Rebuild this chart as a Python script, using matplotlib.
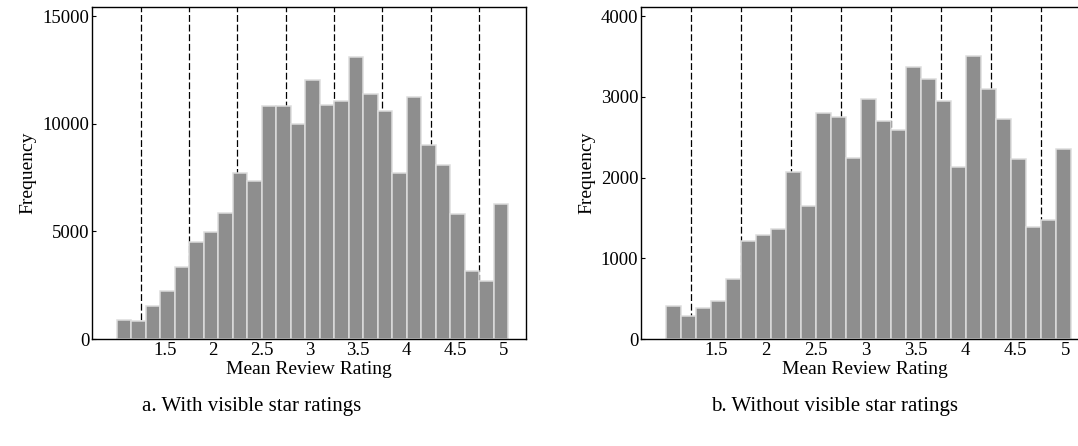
import numpy as np
import matplotlib
matplotlib.use("Agg")
import matplotlib.pyplot as plt

plt.rcParams['font.family'] = ['Liberation Serif', 'DejaVu Serif']

# histogram bins: 27 bins of width 0.15 starting at 1.0
bin_start = 1.0
bin_width = 0.15
n_bins = 27

# a. with visible star ratings
freq_visible = [900, 820, 1515, 2210, 3340, 4485, 4950, 5845, 7730, 7345,
                10825, 10825, 10005, 12015, 10890, 11040, 13110, 11400, 10580,
                7730, 11260, 8990, 8060, 5820, 3180, 2715, 6280]
# b. without visible star ratings
freq_hidden = [404, 280, 384, 466, 742, 1208, 1283, 1357, 2066, 1650,
               2796, 2747, 2239, 2969, 2705, 2594, 3365, 3217, 2945,
               2128, 3505, 3093, 2726, 2227, 1386, 1468, 2351]

star_bounds = [1.25, 1.75, 2.25, 2.75, 3.25, 3.75, 4.25, 4.75]
xticks = [1.5, 2, 2.5, 3, 3.5, 4, 4.5, 5]
yticks_a = [0, 5000, 10000, 15000]
yticks_b = [0, 1000, 2000, 3000, 4000]

edges = bin_start + bin_width * np.arange(n_bins)

fig = plt.figure(figsize=(10.78, 4.46), dpi=100)
ax1 = fig.add_axes([0.0853, 0.2399, 0.4026, 0.7437])
ax2 = fig.add_axes([0.5946, 0.2399, 0.4156, 0.7437])

def draw_panel(ax, freq, yticks, ytop):
    for b in star_bounds:
        ax.axvline(b, color='black', lw=0.9, ls=(0, (5.5, 2.2)), zorder=1)
    ax.bar(edges, freq, width=bin_width, align='edge', color='#8e8e8e',
           edgecolor='#dcdcdc', linewidth=1.1, zorder=2)
    ax.set_xlim(0.745, 5.235)
    ax.set_ylim(0, ytop)
    ax.set_xticks(xticks)
    ax.set_xticklabels([f"{t:g}" for t in xticks])
    ax.set_yticks(yticks)
    ax.set_yticklabels([str(t) for t in yticks])
    ax.tick_params(direction='in', length=3, width=0.8, labelsize=13.5,
                   top=False, right=False, pad=2)
    ax.tick_params(axis='x', pad=2)
    for s in ax.spines.values():
        s.set_linewidth(1.0)
    ax.set_xlabel('Mean Review Rating', fontsize=14, labelpad=1.5)
    ax.set_ylabel('Frequency', fontsize=14, labelpad=4)

draw_panel(ax1, freq_visible, yticks_a, 15404)
draw_panel(ax2, freq_hidden, yticks_b, 4108)

fig.text(252 / 1078, 1 - 407 / 446, 'a. With visible star ratings',
         ha='center', va='center', fontsize=15)
fig.text(835 / 1078, 1 - 407 / 446, 'b. Without visible star ratings',
         ha='center', va='center', fontsize=15)

fig.savefig('out.png', dpi=100)
